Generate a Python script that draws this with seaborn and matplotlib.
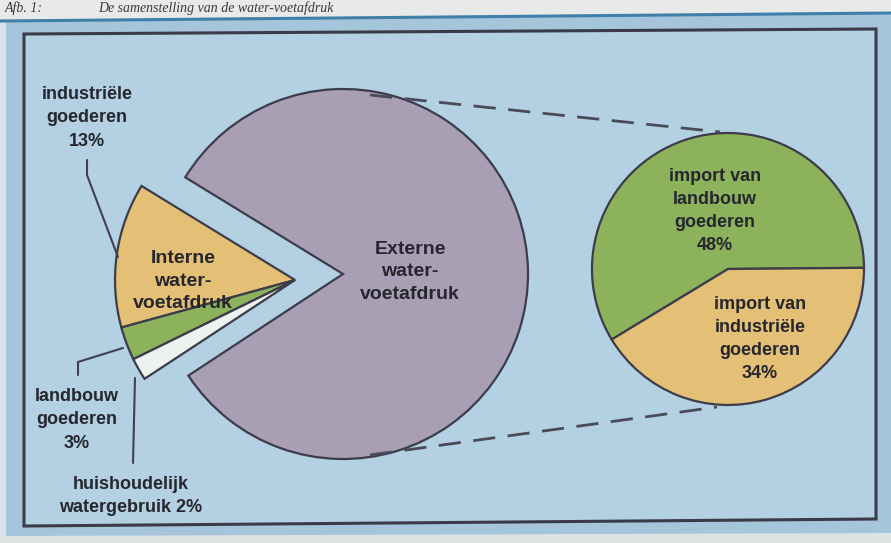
import matplotlib
matplotlib.use("Agg")
import matplotlib.pyplot as plt
import seaborn as sns
from matplotlib.patches import Polygon

sns.set_theme(style="white")
plt.rcParams['font.family'] = ['Liberation Sans', 'DejaVu Sans']

# ---------------- data ----------------
intern_labels = ["industriële goederen", "landbouw goederen", "huishoudelijk watergebruik"]
intern_values = [13, 3, 2]
extern_label = "Externe water-voetafdruk"
extern_value = 82
import_labels = ["import van landbouw goederen", "import van industriële goederen"]
import_values = [48, 34]

W, H = 891, 543
def Y(y):
    return H - y

C_PURPLE = "#a89fb5"
C_YELLOW = "#e4c076"
C_GREEN = "#8cb35b"
C_WHITE = "#eef2ef"
C_EDGE = "#3c3c4a"
C_TEXT = "#26262e"

fig = plt.figure(figsize=(W / 100, H / 100), dpi=100)
fig.patch.set_facecolor("#a5c5da")
ax = fig.add_axes([0, 0, 1, 1])
ax.set_facecolor("#a5c5da")

# paper strip at the top and bottom, scan artefacts
ax.add_patch(Polygon([(0, Y(0)), (W, Y(0)), (W, Y(12)), (0, Y(20))], closed=True,
                     facecolor="#e7eae9", edgecolor="none", zorder=0))
ax.plot([0, W], [Y(21), Y(13)], color="#3f7fa8", lw=2.2, zorder=1, solid_capstyle="butt")
ax.add_patch(Polygon([(0, Y(536)), (W, Y(533)), (W, Y(H)), (0, Y(H))], closed=True,
                     facecolor="#dde2e2", edgecolor="none", zorder=0))
ax.add_patch(Polygon([(0, Y(21)), (6, Y(21)), (6, Y(536)), (0, Y(536))], closed=True,
                     facecolor="#d6e2e8", edgecolor="none", zorder=0))

# inner framed box
box = [(24, Y(34)), (876, Y(29)), (876, Y(519)), (24, Y(526))]
ax.add_patch(Polygon(box, closed=True, facecolor="#b3d1e2", edgecolor="#3a3a48",
                     lw=2.2, zorder=1))

# caption
ax.text(5, Y(1.5), "Afb. 1:", fontsize=10, family=["Liberation Serif"], style="italic",
        color="#3a3a3a", va="top", ha="left", zorder=2)
ax.text(98, Y(1.0), "De samenstelling van de water-voetafdruk", fontsize=10,
        family=["Liberation Serif"], style="italic", color="#3a3a3a",
        va="top", ha="left", zorder=2)

all_values = intern_values + [extern_value]
start = 148.5
wp = dict(edgecolor=C_EDGE, linewidth=1.6)

# external (big) pie; internal part hidden here
w_ext, _ = ax.pie(all_values, center=(343, Y(274)), radius=185, startangle=start,
                  colors=[C_YELLOW, C_GREEN, C_WHITE, C_PURPLE], wedgeprops=wp, frame=True)
for w in w_ext[:3]:
    w.set_visible(False)

# internal part, pulled out to the left
w_int, _ = ax.pie(all_values, center=(295, Y(280)), radius=180, startangle=start,
                  colors=[C_YELLOW, C_GREEN, C_WHITE, C_PURPLE], wedgeprops=wp, frame=True)
w_int[3].set_visible(False)

# import breakdown pie
ax.pie(import_values, center=(728, Y(269)), radius=136, startangle=0.5,
       colors=[C_GREEN, C_YELLOW], wedgeprops=wp, frame=True)

# dashed connectors
dash = dict(color="#4a4a58", lw=2.0, ls=(0, (8, 4.5)), zorder=3)
ax.plot([370, 720], [Y(95), Y(132)], **dash)
ax.plot([370, 717], [Y(455), Y(407)], **dash)

# leader lines
lead = dict(color="#404050", lw=1.5, zorder=3)
ax.plot([87, 87, 118], [Y(160), Y(175), Y(257)], **lead)
ax.plot([78, 78, 123], [Y(375), Y(362), Y(348)], **lead)
ax.plot([133, 135], [Y(463), Y(378)], **lead)

tkw = dict(fontweight="bold", color=C_TEXT, ha="center", va="center", zorder=4)
ax.text(410, Y(272), "Externe\nwater-\nvoetafdruk", fontsize=14, linespacing=1.4, **tkw)
ax.text(183, Y(281), "Interne\nwater-\nvoetafdruk", fontsize=14, linespacing=1.45, **tkw)
ax.text(87, Y(118), f"industriële\ngoederen\n{intern_values[0]}%", fontsize=13,
        linespacing=1.5, **tkw)
ax.text(77, Y(420), f"landbouw\ngoederen\n{intern_values[1]}%", fontsize=13,
        linespacing=1.5, **tkw)
ax.text(131, Y(496), f"huishoudelijk\nwatergebruik {intern_values[2]}%", fontsize=13,
        linespacing=1.4, **tkw)
ax.text(715, Y(211), f"import van\nlandbouw\ngoederen\n{import_values[0]}%", fontsize=13,
        linespacing=1.45, **tkw)
ax.text(760, Y(339), f"import van\nindustriële\ngoederen\n{import_values[1]}%", fontsize=13,
        linespacing=1.45, **tkw)

ax.set_xlim(0, W)
ax.set_ylim(0, H)
ax.set_aspect("auto")
ax.axis("off")

fig.savefig("out.png", dpi=100)
